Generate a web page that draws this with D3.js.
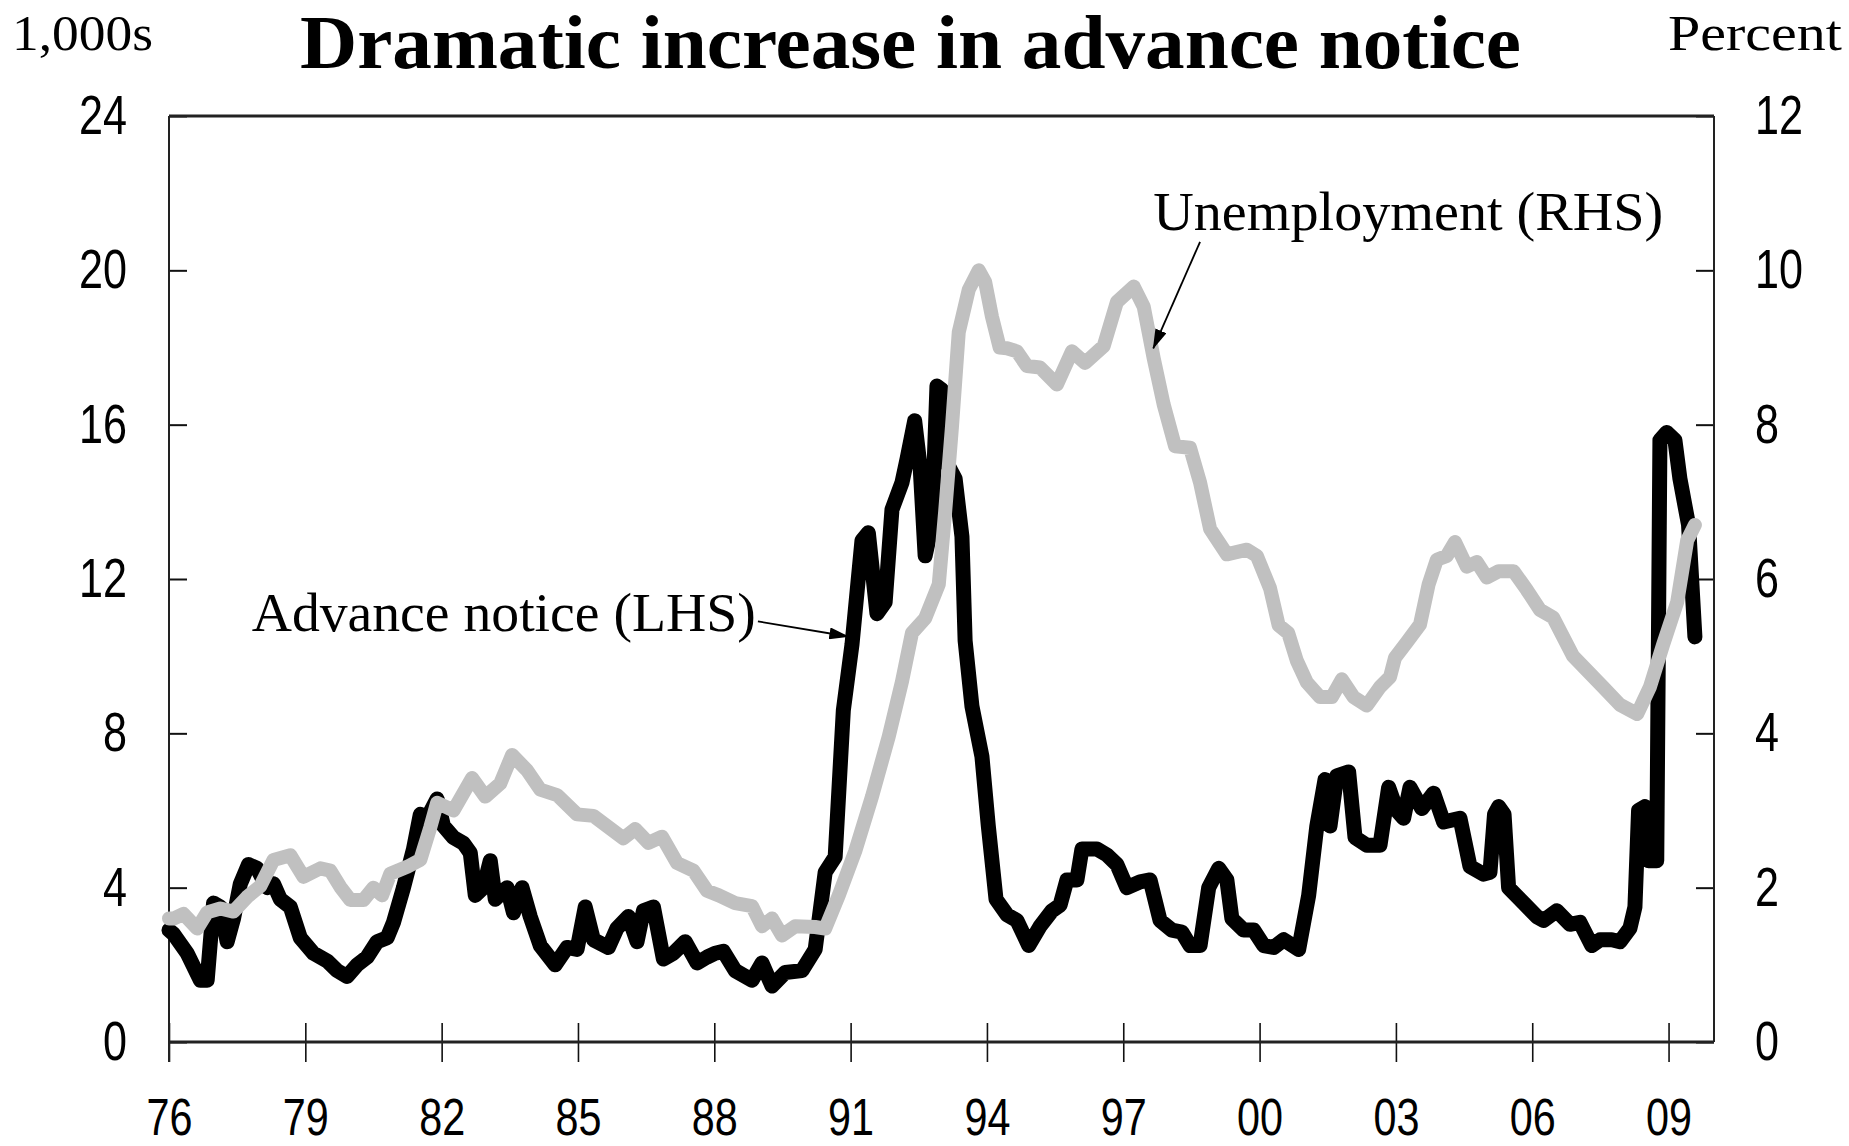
<!DOCTYPE html>
<html>
<head>
<meta charset="utf-8">
<script src="https://cdn.jsdelivr.net/npm/d3@7"></script>
<style>
  body { margin: 0; background: #fff; }
  svg { display: block; }
  .tick text { font-family: "Liberation Sans", Arial, sans-serif; font-size: 52px; fill: #000; }
  .yaxis .tick text { font-size: 55px; }
  .serif { font-family: "Liberation Serif", "DejaVu Serif", serif; fill: #000; }
</style>
</head>
<body>
<div id="chart"></div>
<script>
// advance notice, 1,000s (LHS)
var noticeDates = [1976.00, 1976.10, 1976.40, 1976.69, 1976.84, 1976.98, 1977.13, 1977.28, 1977.42, 1977.57,
  1977.75, 1977.94, 1978.16, 1978.30, 1978.45, 1978.67, 1978.89, 1979.18, 1979.48, 1979.70,
  1979.92, 1980.14, 1980.36, 1980.58, 1980.80, 1980.94, 1981.16, 1981.38, 1981.53, 1981.68,
  1981.90, 1982.04, 1982.26, 1982.48, 1982.63, 1982.74, 1982.92, 1983.07, 1983.18, 1983.44,
  1983.58, 1983.77, 1983.95, 1984.17, 1984.50, 1984.76, 1984.98, 1985.16, 1985.34, 1985.67,
  1985.86, 1986.11, 1986.30, 1986.44, 1986.66, 1986.88, 1987.10, 1987.36, 1987.62, 1987.84,
  1988.02, 1988.20, 1988.46, 1988.83, 1989.05, 1989.27, 1989.56, 1989.93, 1990.22, 1990.44,
  1990.66, 1990.84, 1991.03, 1991.25, 1991.39, 1991.58, 1991.76, 1991.91, 1992.13, 1992.24,
  1992.41, 1992.53, 1992.64, 1992.79, 1992.90, 1993.01, 1993.12, 1993.30, 1993.45, 1993.52,
  1993.67, 1993.89, 1994.03, 1994.20, 1994.44, 1994.66, 1994.92, 1995.17, 1995.43, 1995.61,
  1995.76, 1995.98, 1996.09, 1996.42, 1996.64, 1996.86, 1997.08, 1997.37, 1997.59, 1997.81,
  1998.07, 1998.29, 1998.47, 1998.69, 1998.88, 1999.10, 1999.28, 1999.39, 1999.65, 1999.87,
  2000.09, 2000.31, 2000.53, 2000.86, 2001.08, 2001.26, 2001.44, 2001.55, 2001.70, 2001.96,
  2002.10, 2002.36, 2002.65, 2002.84, 2003.02, 2003.17, 2003.31, 2003.57, 2003.83, 2004.05,
  2004.41, 2004.63, 2004.93, 2005.07, 2005.17, 2005.26, 2005.38, 2005.48, 2005.81, 2006.10,
  2006.25, 2006.54, 2006.83, 2007.05, 2007.31, 2007.49, 2007.75, 2007.93, 2008.15, 2008.26,
  2008.34, 2008.48, 2008.56, 2008.74, 2008.81, 2008.96, 2009.14, 2009.25, 2009.44, 2009.58];
var noticeValues = [2.9, 2.8, 2.3, 1.6, 1.6, 3.6, 3.5, 2.6, 3.2, 4.1,
  4.6, 4.5, 4.0, 4.1, 3.7, 3.5, 2.7, 2.3, 2.1, 1.85,
  1.7, 2.0, 2.2, 2.6, 2.7, 3.1, 4.0, 5.0, 5.9, 5.8,
  6.3, 5.6, 5.3, 5.15, 4.9, 3.8, 4.0, 4.7, 3.7, 4.0,
  3.35, 4.0, 3.25, 2.5, 2.0, 2.45, 2.4, 3.5, 2.65, 2.45,
  2.95, 3.25, 2.6, 3.4, 3.5, 2.15, 2.3, 2.6, 2.05, 2.2,
  2.3, 2.35, 1.85, 1.6, 2.05, 1.45, 1.8, 1.85, 2.4, 4.4,
  4.8, 8.6, 10.3, 13.0, 13.2, 11.1, 11.4, 13.8, 14.5, 15.1,
  16.1, 14.9, 12.6, 13.4, 17.0, 16.9, 15.0, 14.6, 13.1, 10.4,
  8.7, 7.4, 5.6, 3.7, 3.3, 3.15, 2.5, 3.0, 3.4, 3.55,
  4.2, 4.2, 5.0, 5.0, 4.85, 4.6, 4.0, 4.15, 4.2, 3.15,
  2.9, 2.85, 2.5, 2.5, 4.0, 4.5, 4.2, 3.2, 2.9, 2.9,
  2.5, 2.45, 2.65, 2.4, 3.8, 5.6, 6.8, 5.6, 6.9, 7.0,
  5.3, 5.1, 5.1, 6.6, 6.0, 5.8, 6.6, 6.05, 6.45, 5.7,
  5.8, 4.55, 4.35, 4.4, 5.9, 6.1, 5.9, 4.0, 3.6, 3.25,
  3.15, 3.4, 3.05, 3.1, 2.5, 2.65, 2.65, 2.6, 2.95, 3.5,
  6.0, 6.1, 4.7, 4.7, 15.6, 15.8, 15.6, 14.6, 13.4, 10.5];

// unemployment rate, percent (RHS)
var unempDates = [1976.00, 1976.10, 1976.32, 1976.62, 1976.84, 1977.13, 1977.42, 1977.72, 1978.01, 1978.30,
  1978.67, 1978.96, 1979.33, 1979.55, 1979.77, 1979.99, 1980.28, 1980.50, 1980.69, 1980.87,
  1981.24, 1981.53, 1981.75, 1981.90, 1982.26, 1982.67, 1982.96, 1983.29, 1983.55, 1983.88,
  1984.17, 1984.54, 1984.98, 1985.34, 1986.00, 1986.26, 1986.55, 1986.85, 1987.18, 1987.54,
  1987.84, 1988.10, 1988.46, 1988.83, 1989.05, 1989.27, 1989.49, 1989.78, 1990.22, 1990.44,
  1990.74, 1991.10, 1991.47, 1991.84, 1992.13, 1992.35, 1992.64, 1992.94, 1993.08, 1993.23,
  1993.38, 1993.60, 1993.82, 1993.96, 1994.11, 1994.28, 1994.44, 1994.66, 1994.88, 1995.17,
  1995.54, 1995.87, 1996.16, 1996.57, 1996.86, 1997.23, 1997.45, 1997.67, 1997.89, 1998.14,
  1998.47, 1998.69, 1998.91, 1999.28, 1999.72, 1999.94, 2000.23, 2000.42, 2000.63, 2000.82,
  2001.04, 2001.33, 2001.59, 2001.81, 2002.07, 2002.36, 2002.65, 2002.87, 2002.98, 2003.24,
  2003.53, 2003.72, 2003.90, 2004.12, 2004.30, 2004.56, 2004.78, 2005.00, 2005.26, 2005.59,
  2005.88, 2006.17, 2006.46, 2006.90, 2007.56, 2007.93, 2008.31, 2008.59, 2008.88, 2009.19,
  2009.41, 2009.58];
var unempValues = [1.6, 1.6, 1.66, 1.47, 1.68, 1.73, 1.69, 1.88, 2.02, 2.36,
  2.42, 2.14, 2.25, 2.22, 2.01, 1.84, 1.84, 2.0, 1.9, 2.18,
  2.27, 2.36, 2.78, 3.1, 3.0, 3.42, 3.18, 3.35, 3.72, 3.52,
  3.27, 3.2, 2.95, 2.93, 2.64, 2.76, 2.58, 2.66, 2.32, 2.22,
  1.96, 1.9, 1.8, 1.76, 1.5, 1.6, 1.38, 1.5, 1.49, 1.47,
  1.9, 2.47, 3.18, 3.96, 4.67, 5.3, 5.49, 5.93, 6.87, 7.97,
  9.2, 9.75, 10.0, 9.85, 9.4, 9.0, 8.99, 8.95, 8.76, 8.74,
  8.52, 8.95, 8.8, 9.02, 9.59, 9.79, 9.53, 8.86, 8.26, 7.72,
  7.7, 7.25, 6.65, 6.32, 6.38, 6.3, 5.88, 5.4, 5.3, 4.94,
  4.66, 4.47, 4.47, 4.7, 4.47, 4.36, 4.6, 4.73, 4.98, 5.18,
  5.41, 5.93, 6.25, 6.3, 6.48, 6.16, 6.22, 6.02, 6.1, 6.1,
  5.86, 5.6, 5.5, 5.0, 4.6, 4.37, 4.25, 4.6, 5.15, 5.7,
  6.5, 6.7];

var xTicks = [1976, 1979, 1982, 1985, 1988, 1991, 1994, 1997, 2000, 2003, 2006, 2009];
var leftTicks = [0, 4, 8, 12, 16, 20, 24];
var rightTicks = [0, 2, 4, 6, 8, 10, 12];

var chartTitle = "Dramatic increase in advance notice";
var leftUnit = "1,000s";
var rightUnit = "Percent";
var noticeLabel = "Advance notice (LHS)";
var unempLabel = "Unemployment (RHS)";

var width = 1849, height = 1146;
var plot = {left: 169, right: 1714, top: 116, bottom: 1042};

var svg = d3.select("#chart").append("svg")
    .attr("width", width)
    .attr("height", height);

var x = d3.scaleLinear().domain([1976, 2010]).range([plot.left, plot.right]);
var yL = d3.scaleLinear().domain([0, 24]).range([plot.bottom, plot.top]);
var yR = d3.scaleLinear().domain([0, 12]).range([plot.bottom, plot.top]);

// narrow digits like the original's condensed font
function squeeze(sel, perChar) {
  sel.selectAll(".tick text")
    .attr("textLength", function() { return this.textContent.length * perChar; })
    .attr("lengthAdjust", "spacingAndGlyphs");
}

// title and unit labels
svg.append("text").attr("class", "serif")
    .attr("x", 300).attr("y", 68)
    .attr("font-size", 76).attr("font-weight", "bold")
    .attr("textLength", 1221).attr("lengthAdjust", "spacingAndGlyphs")
    .text(chartTitle);

svg.append("text").attr("class", "serif")
    .attr("x", 12).attr("y", 50)
    .attr("font-size", 50)
    .attr("textLength", 141).attr("lengthAdjust", "spacingAndGlyphs")
    .text(leftUnit);

svg.append("text").attr("class", "serif")
    .attr("x", 1668).attr("y", 50)
    .attr("font-size", 50)
    .attr("textLength", 174).attr("lengthAdjust", "spacingAndGlyphs")
    .text(rightUnit);

// axes
var xAxis = svg.append("g")
    .attr("transform", "translate(0," + plot.bottom + ")")
    .call(d3.axisBottom(x).tickValues(xTicks).tickSize(20).tickPadding(36)
      .tickFormat(function(d) { return String(d).slice(2); }));
xAxis.select(".domain").remove();
xAxis.selectAll(".tick line").attr("y1", -19).attr("stroke", "#111").attr("stroke-width", 1.6);
squeeze(xAxis, 23);

var leftAxis = svg.append("g").attr("class", "yaxis")
    .attr("transform", "translate(" + plot.left + ",0)")
    .call(d3.axisLeft(yL).tickValues(leftTicks).tickSize(-18).tickPadding(42));
leftAxis.select(".domain").remove();
leftAxis.selectAll(".tick line").attr("stroke", "#111").attr("stroke-width", 2);
squeeze(leftAxis, 24);

var rightAxis = svg.append("g").attr("class", "yaxis")
    .attr("transform", "translate(" + plot.right + ",0)")
    .call(d3.axisRight(yR).tickValues(rightTicks).tickSize(-18).tickPadding(41));
rightAxis.select(".domain").remove();
rightAxis.selectAll(".tick line").attr("stroke", "#111").attr("stroke-width", 2);
squeeze(rightAxis, 24);

// frame
svg.append("line").attr("x1", plot.left).attr("x2", plot.right).attr("y1", plot.top).attr("y2", plot.top)
    .attr("stroke", "#222").attr("stroke-width", 3);
svg.append("line").attr("x1", plot.left).attr("x2", plot.right).attr("y1", plot.bottom).attr("y2", plot.bottom)
    .attr("stroke", "#222").attr("stroke-width", 3);
svg.append("line").attr("x1", plot.left).attr("x2", plot.left).attr("y1", plot.top).attr("y2", plot.bottom + 20)
    .attr("stroke", "#222").attr("stroke-width", 2);
svg.append("line").attr("x1", plot.right).attr("x2", plot.right).attr("y1", plot.top).attr("y2", plot.bottom)
    .attr("stroke", "#222").attr("stroke-width", 2);

// series
var noticeLine = d3.line()
    .x(function(d, i) { return x(noticeDates[i]); })
    .y(function(d) { return yL(d); });
var unempLine = d3.line()
    .x(function(d, i) { return x(unempDates[i]); })
    .y(function(d) { return yR(d); });

svg.append("path").datum(noticeValues)
    .attr("d", noticeLine)
    .attr("fill", "none").attr("stroke", "#000").attr("stroke-width", 15)
    .attr("stroke-linejoin", "round").attr("stroke-linecap", "round");

svg.append("path").datum(unempValues)
    .attr("d", unempLine)
    .attr("fill", "none").attr("stroke", "#c0c0c0").attr("stroke-width", 14)
    .attr("stroke-linejoin", "round").attr("stroke-linecap", "round");

// annotations (placed in data units)
svg.append("defs").append("marker")
    .attr("id", "head")
    .attr("markerUnits", "userSpaceOnUse")
    .attr("markerWidth", 20).attr("markerHeight", 12)
    .attr("refX", 19).attr("refY", 6)
    .attr("orient", "auto")
  .append("path").attr("d", "M0,0 L20,6 L0,12 Z").attr("fill", "#000");

svg.append("text").attr("class", "serif")
    .attr("x", x(1977.82)).attr("y", yL(10.65))
    .attr("font-size", 54)
    .attr("textLength", 504).attr("lengthAdjust", "spacingAndGlyphs")
    .text(noticeLabel);
svg.append("line")
    .attr("x1", x(1988.96)).attr("y1", yL(10.9))
    .attr("x2", x(1990.95)).attr("y2", yL(10.51))
    .attr("stroke", "#000").attr("stroke-width", 1.8)
    .attr("marker-end", "url(#head)");

svg.append("text").attr("class", "serif")
    .attr("x", x(1997.66)).attr("y", yR(10.52))
    .attr("font-size", 54)
    .attr("textLength", 510).attr("lengthAdjust", "spacingAndGlyphs")
    .text(unempLabel);
svg.append("line")
    .attr("x1", x(1998.69)).attr("y1", yR(10.37))
    .attr("x2", x(1997.66)).attr("y2", yR(8.99))
    .attr("stroke", "#000").attr("stroke-width", 1.8)
    .attr("marker-end", "url(#head)");
</script>
</body>
</html>
